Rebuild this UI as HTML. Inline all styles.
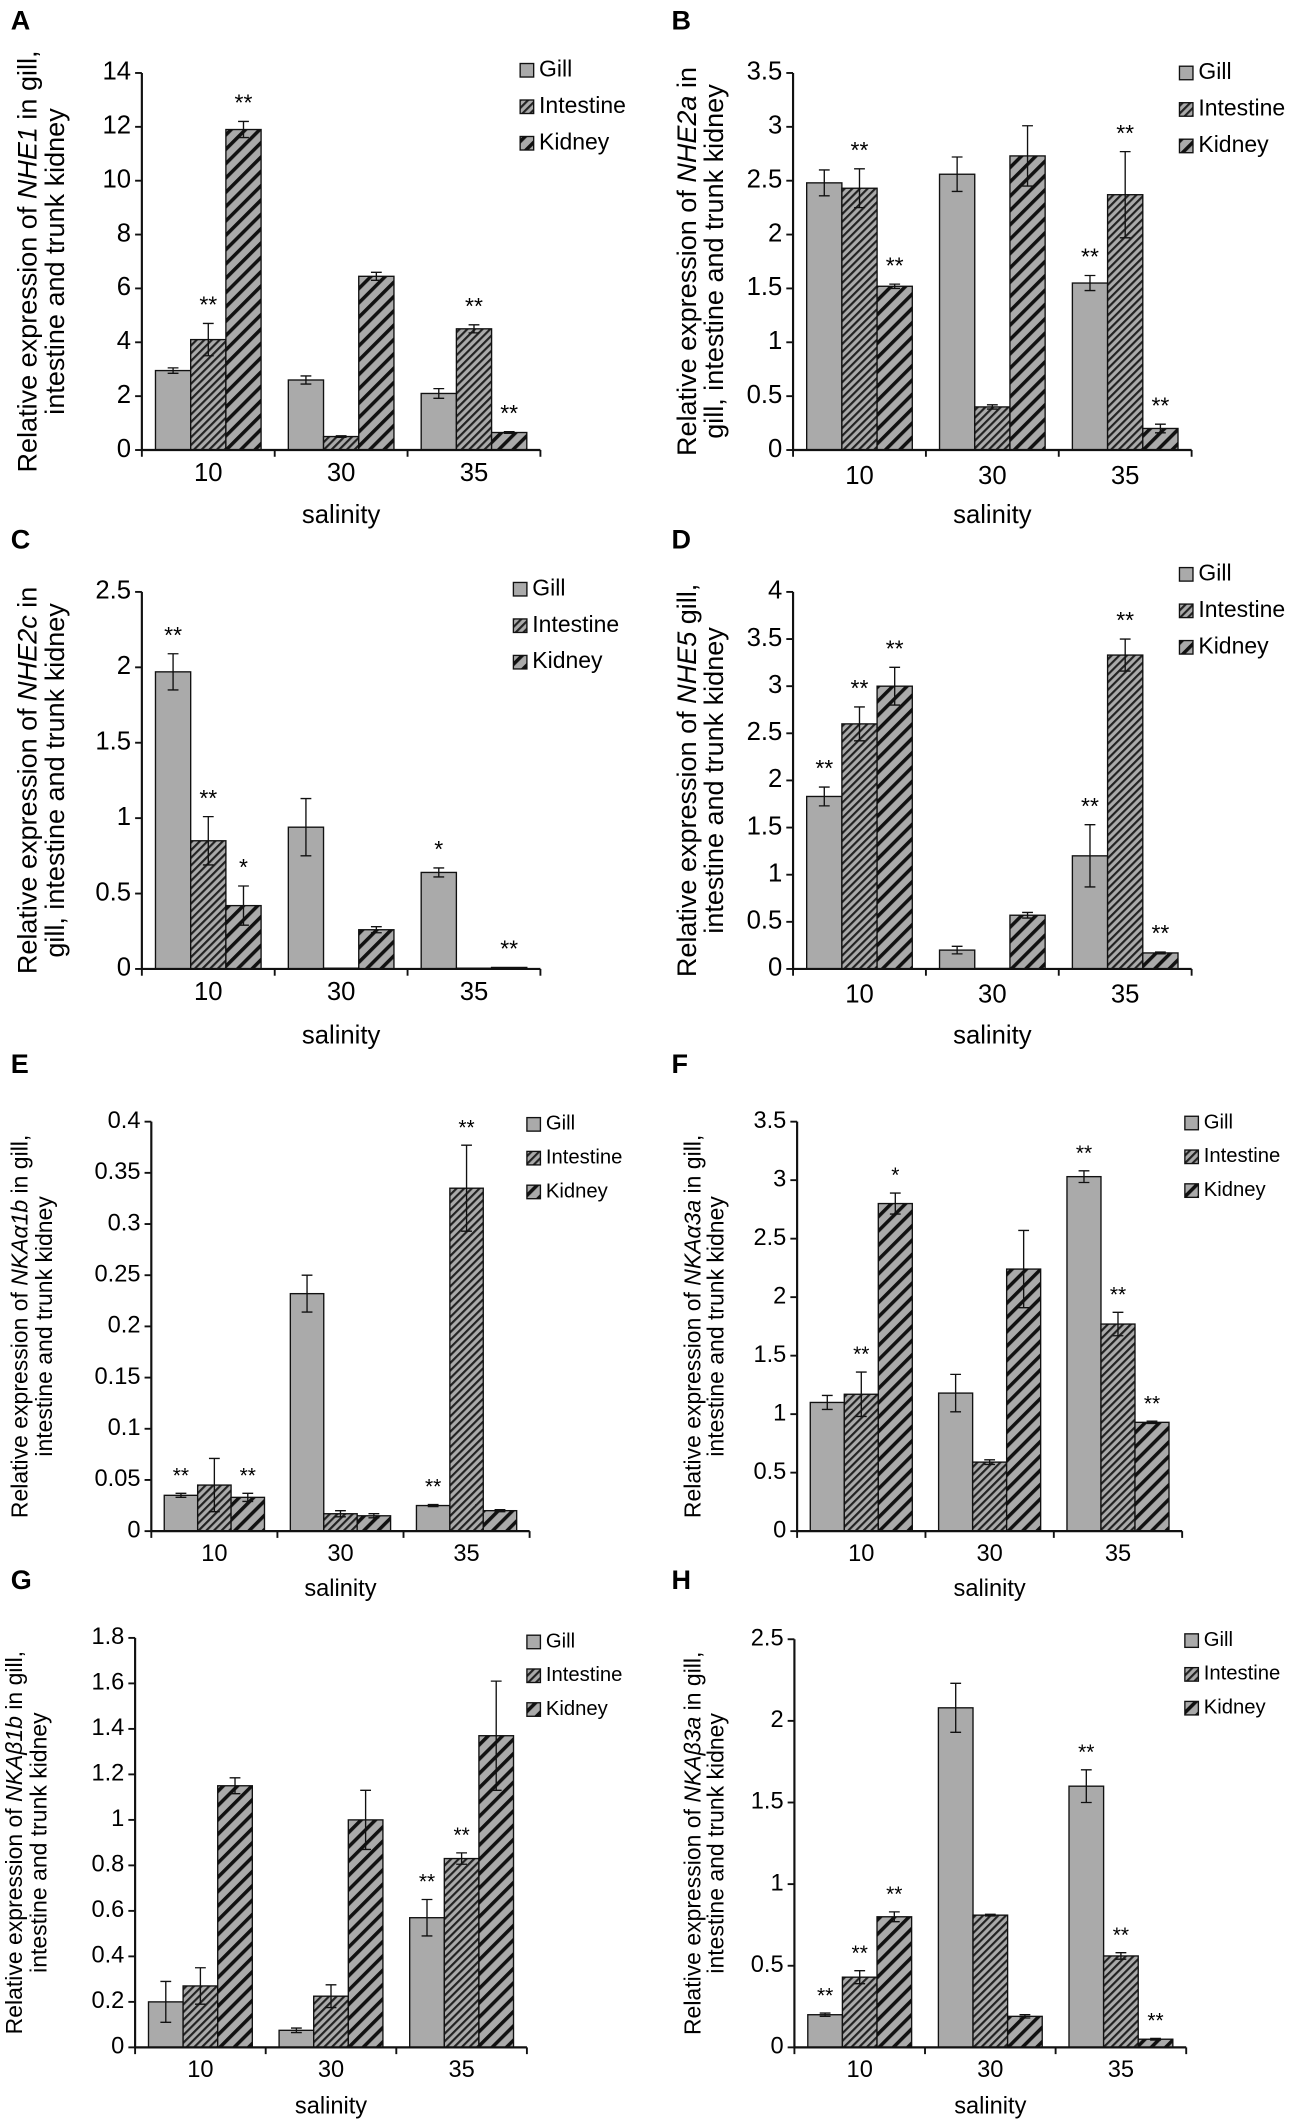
<!DOCTYPE html>
<html><head><meta charset="utf-8"><style>
html,body{margin:0;padding:0;background:#fff;}
svg{display:block;font-family:"Liberation Sans",Arial,sans-serif;}
</style></head><body>
<svg id="fig" width="1297" height="2119" viewBox="0 0 960 1568" preserveAspectRatio="none" xmlns="http://www.w3.org/2000/svg">
<defs>
<pattern id="pInt" patternUnits="userSpaceOnUse" width="4" height="4" patternTransform="rotate(45)">
<rect width="4" height="4" fill="#aaaaaa"/><rect width="1.6" height="4" fill="#222"/></pattern>
<pattern id="pKid" patternUnits="userSpaceOnUse" width="7.5" height="7.5" patternTransform="rotate(45)">
<rect width="7.5" height="7.5" fill="#aaaaaa"/><rect width="2.6" height="7.5" fill="#111"/></pattern>
</defs>
</svg>
<script>
const categories=["10","30","35"];
const seriesNames=["Gill","Intestine","Kidney"];
// Panel A
const aGill=[2.95,2.6,2.1], aGillErr=[0.1,0.15,0.18];
const aInt=[4.1,0.5,4.5], aIntErr=[0.6,0.03,0.15];
const aKid=[11.9,6.45,0.65], aKidErr=[0.3,0.15,0.03];
const aStars=[["","**","**"],["","",""],["","**","**"]];
const aTicks=[0,2,4,6,8,10,12,14];
// Panel B
const bGill=[2.48,2.56,1.55], bGillErr=[0.12,0.16,0.07];
const bInt=[2.43,0.4,2.37], bIntErr=[0.18,0.02,0.4];
const bKid=[1.52,2.73,0.2], bKidErr=[0.02,0.28,0.04];
const bStars=[["","**","**"],["","",""],["**","**","**"]];
const bTicks=[0,0.5,1,1.5,2,2.5,3,3.5];
// Panel C
const cGill=[1.97,0.94,0.64], cGillErr=[0.12,0.19,0.03];
const cInt=[0.85,0.005,0.005], cIntErr=[0.16,0,0];
const cKid=[0.42,0.26,0.01], cKidErr=[0.13,0.02,0];
const cStars=[["**","**","*"],["","",""],["*","","**"]];
const cTicks=[0,0.5,1,1.5,2,2.5];
// Panel D
const dGill=[1.83,0.2,1.2], dGillErr=[0.1,0.04,0.33];
const dInt=[2.6,0.005,3.33], dIntErr=[0.18,0,0.17];
const dKid=[3.0,0.57,0.17], dKidErr=[0.2,0.03,0.01];
const dStars=[["**","**","**"],["","",""],["**","**","**"]];
const dTicks=[0,0.5,1,1.5,2,2.5,3,3.5,4];
// Panel E
const eGill=[0.035,0.232,0.025], eGillErr=[0.002,0.018,0.001];
const eInt=[0.045,0.017,0.335], eIntErr=[0.026,0.003,0.042];
const eKid=[0.033,0.015,0.02], eKidErr=[0.004,0.002,0.001];
const eStars=[["**","","**"],["","",""],["**","**",""]];
const eTicks=[0,0.05,0.1,0.15,0.2,0.25,0.3,0.35,0.4];
// Panel F
const fGill=[1.1,1.18,3.03], fGillErr=[0.06,0.16,0.05];
const fInt=[1.17,0.59,1.77], fIntErr=[0.19,0.02,0.1];
const fKid=[2.8,2.24,0.93], fKidErr=[0.09,0.33,0.01];
const fStars=[["","**","*"],["","",""],["**","**","**"]];
const fTicks=[0,0.5,1,1.5,2,2.5,3,3.5];
// Panel G
const gGill=[0.2,0.075,0.57], gGillErr=[0.09,0.01,0.08];
const gInt=[0.27,0.225,0.83], gIntErr=[0.08,0.05,0.025];
const gKid=[1.15,1.0,1.37], gKidErr=[0.035,0.13,0.24];
const gStars=[["","",""],["","",""],["**","**",""]];
const gTicks=[0,0.2,0.4,0.6,0.8,1,1.2,1.4,1.6,1.8];
// Panel H
const hGill=[0.2,2.08,1.6], hGillErr=[0.01,0.15,0.1];
const hInt=[0.43,0.81,0.56], hIntErr=[0.04,0.005,0.02];
const hKid=[0.8,0.19,0.05], hKidErr=[0.03,0.01,0.005];
const hStars=[["**","**","**"],["","",""],["**","**","**"]];
const hTicks=[0,0.5,1,1.5,2,2.5];

const NS="http://www.w3.org/2000/svg";
const svg=document.getElementById('fig');
function mk(tag,attrs,parent){const e=document.createElementNS(NS,tag);for(const k in attrs)e.setAttribute(k,attrs[k]);(parent||svg).appendChild(e);return e;}

const panels=[
{id:"a",letter:"A",lx:8,ly:22,ax:105,top:54,bot:333,w:295,gene:"NHE1",pre:"Relative expression of ",post:" in gill,",l2:"intestine and trunk kidney",tx:[22,42],tfs:20,fs:19,leg:[385,52],lfs:17,catY:356,salY:387,
 g:aGill,ge:aGillErr,i:aInt,ie:aIntErr,k:aKid,ke:aKidErr,st:aStars,ticks:aTicks},
{id:"b",letter:"B",lx:497,ly:22,ax:587,top:54,bot:333,w:295,gene:"NHE2a",pre:"Relative expression of ",post:" in",l2:"gill, intestine and trunk kidney",tx:[510,530],tfs:20,fs:19,leg:[873,54],lfs:17,catY:358,salY:387,
 g:bGill,ge:bGillErr,i:bInt,ie:bIntErr,k:bKid,ke:bKidErr,st:bStars,ticks:bTicks},
{id:"c",letter:"C",lx:8,ly:406,ax:105,top:438,bot:717,w:295,gene:"NHE2c",pre:"Relative expression of ",post:" in",l2:"gill, intestine and trunk kidney",tx:[22,42],tfs:20,fs:19,leg:[380,436],lfs:17,catY:740,salY:772,
 g:cGill,ge:cGillErr,i:cInt,ie:cIntErr,k:cKid,ke:cKidErr,st:cStars,ticks:cTicks},
{id:"d",letter:"D",lx:497,ly:406,ax:587,top:438,bot:717,w:295,gene:"NHE5",pre:"Relative expression of ",post:" gill,",l2:"intestine and trunk kidney",tx:[510,530],tfs:20,fs:19,leg:[873,425],lfs:17,catY:742,salY:772,
 g:dGill,ge:dGillErr,i:dInt,ie:dIntErr,k:dKid,ke:dKidErr,st:dStars,ticks:dTicks},
{id:"e",letter:"E",lx:8,ly:794,ax:112,top:830,bot:1133,w:280,gene:"NKAα1b",pre:"Relative expression of ",post:" in gill,",l2:"intestine and trunk kidney",tx:[16,34],tfs:17,fs:17.5,leg:[390,832],lfs:15,catY:1155,salY:1181,
 g:eGill,ge:eGillErr,i:eInt,ie:eIntErr,k:eKid,ke:eKidErr,st:eStars,ticks:eTicks},
{id:"f",letter:"F",lx:497,ly:794,ax:590,top:830,bot:1133,w:285,gene:"NKAα3a",pre:"Relative expression of  ",post:" in gill,",l2:"intestine and trunk kidney",tx:[514,531],tfs:17,fs:17.5,leg:[877,831],lfs:15,catY:1155,salY:1181,
 g:fGill,ge:fGillErr,i:fInt,ie:fIntErr,k:fKid,ke:fKidErr,st:fStars,ticks:fTicks},
{id:"g",letter:"G",lx:8,ly:1176,ax:100,top:1212,bot:1515,w:290,gene:"NKAβ1b",pre:"Relative expression of ",post:" in gill,",l2:"intestine and trunk kidney",tx:[12,30],tfs:17,fs:17.5,leg:[390,1215],lfs:15,catY:1537,salY:1564,
 g:gGill,ge:gGillErr,i:gInt,ie:gIntErr,k:gKid,ke:gKidErr,st:gStars,ticks:gTicks},
{id:"h",letter:"H",lx:497,ly:1176,ax:588,top:1213,bot:1515,w:290,gene:"NKAβ3a",pre:"Relative expression of ",post:" in gill,",l2:"intestine and trunk kidney",tx:[514,531],tfs:17,fs:17.5,leg:[877,1214],lfs:15,catY:1537,salY:1564,
 g:hGill,ge:hGillErr,i:hInt,ie:hIntErr,k:hKid,ke:hKidErr,st:hStars,ticks:hTicks}
];
const fills=["#aaaaaa","url(#pInt)","url(#pKid)"];

panels.forEach(p=>{
  const grp=mk('g',{});
  
  
  const ymax=p.ticks[p.ticks.length-1];
  const y=v=>p.bot-(v/ymax)*(p.bot-p.top);
  const cell=p.w/3;
  const bw=cell*0.265;
  const x=(ci,si)=>p.ax+ci*cell+(cell-3*bw)/2+si*bw;
  const lt=mk('text',{x:p.lx,y:p.ly,'font-size':20,'font-weight':'bold'},grp);lt.textContent=p.letter;
  
  
  const cy=(p.top+p.bot)/2;
  const t1=mk('text',{x:p.tx[0],y:cy,'font-size':p.tfs,'text-anchor':'middle',transform:`rotate(-90 ${p.tx[0]} ${cy})`,'dominant-baseline':'middle'},grp);
  
  
  const s1=mk('tspan',{},t1);s1.textContent=p.pre;
  const s2=mk('tspan',{'font-style':'italic'},t1);s2.textContent=p.gene;
  const s3=mk('tspan',{},t1);s3.textContent=p.post;
  const t2=mk('text',{x:p.tx[1],y:cy,'font-size':p.tfs,'text-anchor':'middle',transform:`rotate(-90 ${p.tx[1]} ${cy})`,'dominant-baseline':'middle'},grp);
  t2.textContent=p.l2;
  
  
  const vals=[p.g,p.i,p.k], errs=[p.ge,p.ie,p.ke];
  categories.forEach((c,ci)=>{
    for(let si=0;si<3;si++){
      const v=vals[si][ci], e=errs[si][ci];
      const bx=x(ci,si);
      const r=mk('rect',{x:bx,y:y(v),width:bw,height:p.bot-y(v),fill:fills[si],stroke:'#111','stroke-width':1},grp);
      
      
      const mx=bx+bw/2;
      if(e>0){
        const el=mk('path',{d:`M${mx},${y(v+e)}V${y(Math.max(0,v-e))}M${mx-4},${y(v+e)}h8M${mx-4},${y(Math.max(0,v-e))}h8`,stroke:'#111','stroke-width':1,fill:'none'},grp);
        
        
      }
      const s=p.st[ci][si];
      if(s){
        const st=mk('text',{x:mx,y:y(v+e)-8,'font-size':p.fs-2,'text-anchor':'middle'},grp);st.textContent=s;
        
        
      }
    }
    const cl=mk('text',{x:p.ax+ci*cell+cell/2,y:p.catY,'font-size':p.fs,'text-anchor':'middle'},grp);cl.textContent=c;
    
    
  });
  const axp=mk('path',{d:`M${p.ax},${p.top}V${p.bot}H${p.ax+p.w}`,stroke:'#111','stroke-width':1.6,fill:'none'},grp);
  
  
  for(let i=0;i<=3;i++){mk('line',{x1:p.ax+i*cell,x2:p.ax+i*cell,y1:p.bot,y2:p.bot+5,stroke:'#111','stroke-width':1.4},grp);}
  p.ticks.forEach(t=>{
    mk('line',{x1:p.ax-5,x2:p.ax,y1:y(t),y2:y(t),stroke:'#111','stroke-width':1.4},grp);
    const tl=mk('text',{x:p.ax-8,y:y(t),'font-size':p.fs,'text-anchor':'end','dominant-baseline':'middle'},grp);tl.textContent=String(t);
    
    
  });
  const sl=mk('text',{x:p.ax+p.w/2,y:p.salY,'font-size':p.fs,'text-anchor':'middle'},grp);sl.textContent='salinity';
  
  
  seriesNames.forEach((n,si)=>{
    const ly=p.leg[1]+si*(p.lfs+10);
    const lg=mk('g',{},grp);
    
    
    mk('rect',{x:p.leg[0],y:ly-5,width:10,height:10,fill:fills[si],stroke:'#111','stroke-width':1},lg);
    const lt2=mk('text',{x:p.leg[0]+14,y:ly,'font-size':p.lfs,'dominant-baseline':'middle'},lg);lt2.textContent=(si==2?' ':'')+n;
  });
});
</script>
</body></html>
